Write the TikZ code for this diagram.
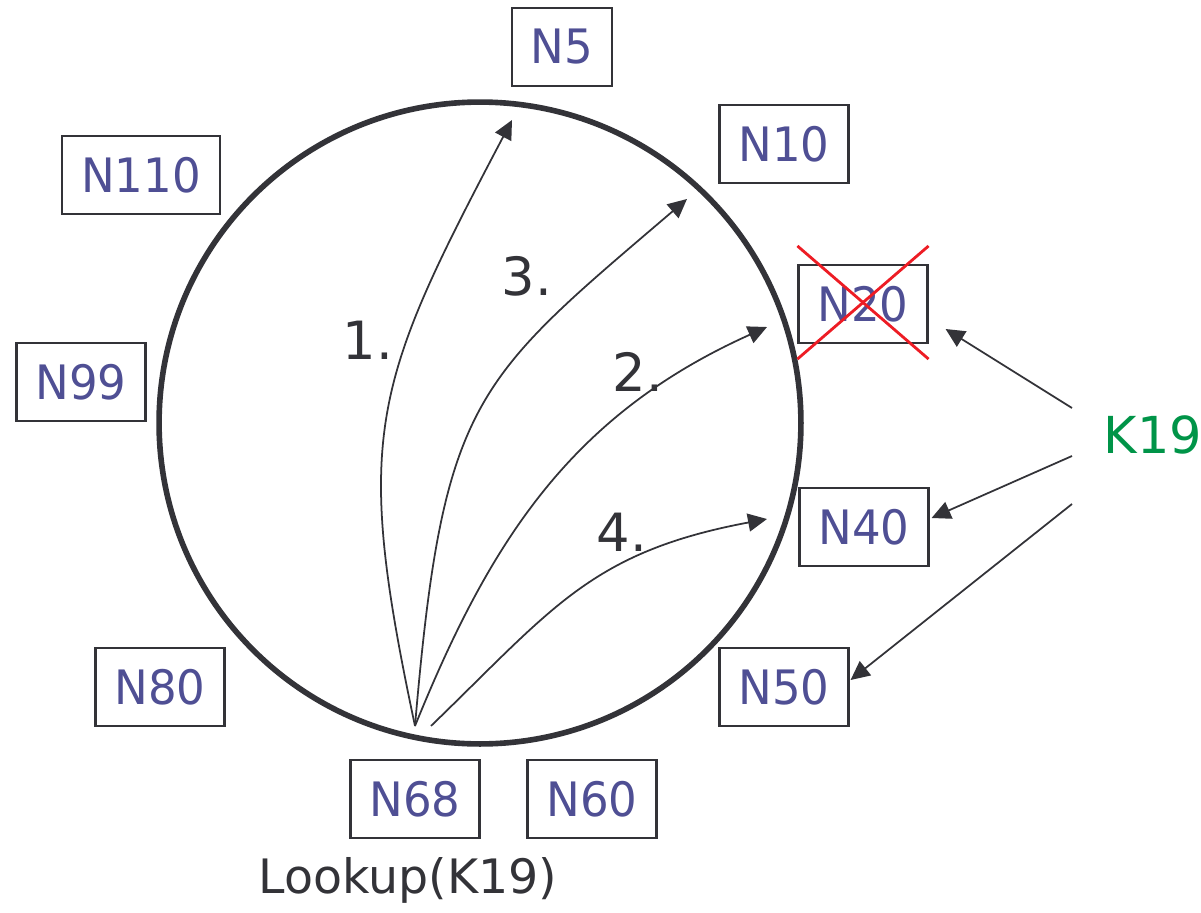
\documentclass[tikz,border=0pt]{standalone}
\usepackage{fontspec}
\setmainfont{DejaVu Sans}
\newfontfamily\ringfont[FakeStretch=0.95]{DejaVu Sans}
\usepackage{tikz}
\usetikzlibrary{positioning}
\usetikzlibrary{arrows.meta}
\usetikzlibrary{calc}
\definecolor{ink}{RGB}{51,51,56}
\definecolor{nodeblue}{RGB}{79,79,148}
\definecolor{keygreen}{RGB}{0,148,72}
\definecolor{crossred}{RGB}{237,28,36}
\tikzset{ring node/.style={draw=ink,line width=1.2pt,text=nodeblue,font=\ringfont\fontsize{27}{27}\selectfont,minimum height=1.56cm,inner xsep=0.38cm,inner ysep=0pt},
	hop label/.style={text=ink,font=\fontsize{30}{30}\selectfont,inner sep=0pt},}

\begin{document}
\begin{tikzpicture}[x=0.02cm, y=-0.02cm, >={Triangle[length=0.38cm,width=0.36cm]}, line width=1pt, color=ink]
	\useasboundingbox (0,0) rectangle (1201,913);
	% the ring
	\draw[line width=3.2pt] (480,423) circle[radius=6.42cm];

	\node[ring node] (n5) at (562,47) {N5};
	\node[ring node] (n10) at (784,144) {N10};
	\node[ring node] (n20) at (863,304) {N20};
	\node[ring node] (n40) at (864,527) {N40};
	\node[ring node] (n50) at (784,687) {N50};
	\node[ring node] (n60) at (592,799) {N60};
	\node[ring node] (n68) at (415,799) {N68};
	\node[ring node] (n80) at (160,687) {N80};
	\node[ring node] (n99) at (81,382) {N99};
	\node[ring node] (n110) at (141,175) {N110};

	% N20 has failed
	\draw[crossred, line width=1.6pt] ($(n20.north west)+(0,-18)$) -- ($(n20.south east)+(0,15)$);
	\draw[crossred, line width=1.6pt] ($(n20.north east)+(0,-18)$) -- ($(n20.south west)+(0,15)$);

	% key and its replicas
	\node[text=keygreen, font=\fontsize{29}{29}\selectfont, inner sep=0pt] (k19) at (1153,435) {K19};
	\coordinate (k19a) at (1072,408);
	\coordinate (k19b) at (1072,456);
	\coordinate (k19c) at (1072,504);
	\draw[->] (k19a) -- ($(n20.east)+(17,25)$);
	\draw[->] (k19b) -- ($(n40.east)+(2,-9)$);
	\draw[->] (k19c) -- ($(n50.east)+(1,-7)$);

	% lookup hops from N68
	\coordinate (hop) at ($(n68.north)+(0,-33)$);
	\coordinate (hop4) at ($(hop)+(16,0)$);
	\coordinate (t1) at (512,120);
	\coordinate (t2) at (767,327);
	\coordinate (t3) at (687,199);
	\coordinate (t4) at (767,519);
	\draw[->] (hop) .. controls (353,434) and (372,386) .. (t1);
	\draw[->] (hop) .. controls (490,541) and (571,415) .. (t2);
	\draw[->] (hop) .. controls (443,398) and (474,381) .. (t3);
	\draw[->] (hop4) .. controls (553,608) and (591,552) .. (t4);

	\node[hop label] (l1) at (368,340) {1.};
	\node[hop label] (l2) at (638,372) {2.};
	\node[hop label] (l3) at (527,276) {3.};
	\node[hop label] (l4) at (622,532) {4.};

	\node[text=ink, font=\fontsize{27}{27}\selectfont, inner sep=0pt, below=0.36cm of n68, xshift=-0.14cm] (lookup) {Lookup(K19)};
\end{tikzpicture}
\end{document}
